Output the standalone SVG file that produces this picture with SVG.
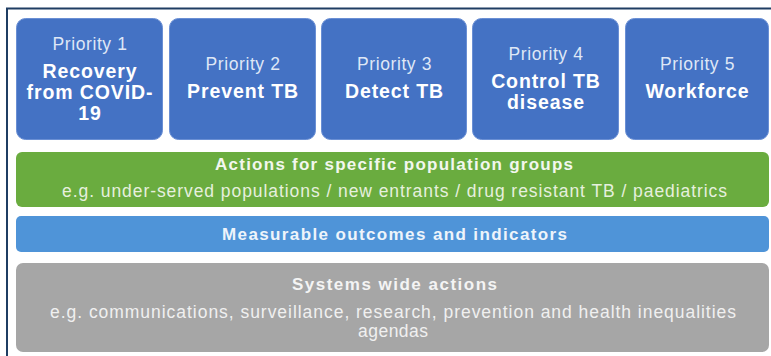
<svg xmlns="http://www.w3.org/2000/svg" width="771" height="356" viewBox="0 0 771 356">
<style>
.pbox{fill:#4472c4;stroke:#6a8fd4;stroke-width:1}
.pl{font-family:"Liberation Sans",Arial,sans-serif;font-size:17.5px;fill:#dfe7f6;text-anchor:middle;letter-spacing:0.6px}
.tl{font-family:"Liberation Sans",Arial,sans-serif;font-size:19.5px;font-weight:bold;fill:#ffffff;text-anchor:middle;letter-spacing:0.9px}
.bh{font-family:"Liberation Sans",Arial,sans-serif;font-size:17px;font-weight:bold;text-anchor:middle}
.bs{font-family:"Liberation Sans",Arial,sans-serif;font-size:17.5px;text-anchor:middle}
</style>
<rect x="0" y="0" width="771" height="356" fill="#ffffff"/>
<g id="frame" fill="none" stroke="#1f3d63" stroke-width="2">
<path d="M7 356 V8.5 H771"/>
</g>
<g id="p1">
<rect class="pbox" x="16.5" y="18.5" width="146" height="121" rx="9"/>
<text class="pl" x="90" y="50">Priority 1</text>
<text class="tl" x="90" y="78">Recovery</text>
<text class="tl" x="90" y="99">from COVID-</text>
<text class="tl" x="90" y="120">19</text>
</g>
<g id="p2">
<rect class="pbox" x="169.5" y="18.5" width="146" height="121" rx="9"/>
<text class="pl" x="243" y="70">Priority 2</text>
<text class="tl" x="243" y="98">Prevent TB</text>
</g>
<g id="p3">
<rect class="pbox" x="321.5" y="18.5" width="145" height="121" rx="9"/>
<text class="pl" x="394.5" y="70">Priority 3</text>
<text class="tl" x="394.5" y="98">Detect TB</text>
</g>
<g id="p4">
<rect class="pbox" x="472.5" y="18.5" width="146" height="121" rx="9"/>
<text class="pl" x="546" y="60">Priority 4</text>
<text class="tl" x="546" y="88">Control TB</text>
<text class="tl" x="546" y="109">disease</text>
</g>
<g id="p5">
<rect class="pbox" x="625.5" y="18.5" width="143" height="121" rx="9"/>
<text class="pl" x="697.5" y="70">Priority 5</text>
<text class="tl" x="697.5" y="98">Workforce</text>
</g>
<g id="groups">
<rect x="16" y="152" width="753" height="55" rx="6" fill="#6aac3f"/>
<text class="bh" x="394" y="170" fill="#f2f7ee" textLength="358" lengthAdjust="spacing">Actions for specific population groups</text>
<text class="bs" x="394.5" y="197" fill="#e6f0de" textLength="665" lengthAdjust="spacing">e.g. under-served populations / new entrants / drug resistant TB / paediatrics</text>
</g>
<g id="outcomes">
<rect x="16" y="216" width="753" height="36" rx="5" fill="#4f94d8"/>
<text class="bh" x="394.5" y="240" fill="#eef4fb" textLength="345" lengthAdjust="spacing">Measurable outcomes and indicators</text>
</g>
<g id="systems">
<rect x="16" y="263" width="753" height="89" rx="7" fill="#a6a6a6"/>
<text class="bh" x="394.5" y="290" fill="#f4f4f4" textLength="205" lengthAdjust="spacing">Systems wide actions</text>
<text class="bs" x="393" y="318" fill="#f0f0f0" textLength="686" lengthAdjust="spacing">e.g. communications, surveillance, research, prevention and health inequalities</text>
<text class="bs" x="393" y="337" fill="#f0f0f0" textLength="70" lengthAdjust="spacing">agendas</text>
</g>
<g id="connectors"></g>
</svg>
